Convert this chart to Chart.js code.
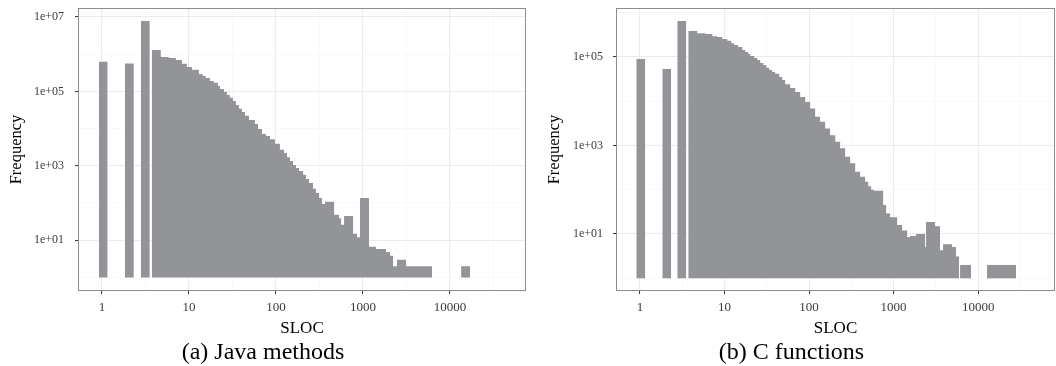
<!DOCTYPE html>
<html lang="en">
<head>
<meta charset="UTF-8">
<title>SLOC histograms</title>
<script src="https://cdn.jsdelivr.net/npm/chart.js@4.4.1/dist/chart.umd.min.js"></script>
<style>
  body { margin: 0; background: #fff; }
  .panel { position: absolute; top: 0; width: 528px; height: 366px; }
</style>
</head>
<body>
<div class="panel" style="left:0"><canvas id="javaChart"></canvas></div>
<div class="panel" style="left:528px"><canvas id="cChart"></canvas></div>

<script>
// step outline of each histogram: bar edge (SLOC) and the height from that edge on, 0 = empty after
const javaEdge = [
    0.92, 1.16, 1.83, 2.32, 2.79, 3.54,
    3.73, 4.74, 5.86, 7.06, 8.28, 9.45, 10.8, 13.0, 14.4, 15.6,
    17.4, 19.3, 21.5, 22.7, 25.2, 27.3, 29.5, 32.0, 34.6, 37.5,
    40.6, 44.0, 48.9, 57.3, 62.1, 69.0, 76.7, 85.3, 97.3, 111,
    124, 134, 145, 157, 170, 184, 205, 222, 240, 267,
    289, 313, 339, 367, 466, 531, 560, 607, 770, 855,
    926, 1175, 1415, 1845, 2050, 2220, 2465, 3130, 6240, 13450, 17100]
const javaFreq = [
    6.3e5, 0, 5.6e5, 0, 7.8e6, 0,
    1.3e6, 8.4e5, 7.9e5, 7.0e5, 5.5e5, 4.5e5, 3.8e5, 2.9e5, 2.6e5, 2.3e5,
    1.9e5, 1.7e5, 1.4e5, 1.16e5, 9.6e4, 8.0e4, 6.7e4, 5.5e4, 4.3e4, 3.4e4,
    2.8e4, 2.2e4, 1.7e4, 1.33e4, 9.8e3, 7.2e3, 6.3e3, 5.2e3, 3.9e3, 2.7e3,
    2.2e3, 1.7e3, 1.35e3, 1.05e3, 870, 720, 570, 440, 345, 240,
    186, 136, 94, 108, 48, 39, 26, 45, 15, 12,
    136, 6.7, 5.8, 4.8, 3.8, 2, 3, 2, 0, 2, 0]

const cEdge = [
    0.904, 1.155, 1.835, 2.34, 2.76, 3.53,
    3.72, 4.75, 5.91, 7.16, 8.20, 9.40, 10.8, 12.0, 13.0, 14.5,
    16.2, 17.6, 19.1, 20.1, 22.5, 24.4, 26.4, 28.7, 31.1, 33.8,
    36.6, 39.7, 44.4, 48.1, 52.2, 59.8, 68.5, 78.5, 90.0, 103,
    118, 135, 155, 177, 204, 233, 267, 306, 351, 402,
    460, 500, 542, 588, 752, 815, 909, 1100, 1260, 1446,
    1568, 1845, 2357, 2420, 3093, 3540, 3845, 4910, 5480, 5940,
    6110, 8240, 12740, 28050]
const cFreq = [
    8.9e4, 0, 5.3e4, 0, 6.4e5, 0,
    3.8e5, 3.4e5, 3.25e5, 2.9e5, 2.8e5, 2.5e5, 2.3e5, 2.0e5, 1.84e5, 1.66e5,
    1.42e5, 1.28e5, 1.15e5, 1.04e5, 9.3e4, 8.4e4, 7.2e4, 6.5e4, 5.6e4, 5.0e4,
    4.5e4, 4.1e4, 3.5e4, 3.0e4, 2.4e4, 1.96e4, 1.6e4, 1.23e4, 9.5e3, 6.8e3,
    4.4e3, 3.4e3, 2.4e3, 1.7e3, 1.2e3, 855, 553, 393, 254, 195,
    151, 120, 100, 94, 45, 29, 24, 16, 12, 8.5,
    9, 10, 5.1, 18.6, 15, 4.3, 5.9, 5.1, 3.1, 0,
    2, 0, 2, 0]

const slocTicks = [1, 10, 100, 1000, 10000]
const javaFreqTicks = [1e1, 1e3, 1e5, 1e7]
const cFreqTicks = [1e1, 1e3, 1e5]

const SERIF = "'Liberation Serif', 'Times New Roman', serif"
const BAR_COLOR = '#939498'
const TICK_TEXT = '#3a3a3a'

function stepPoints(edges, freqs) {
    const pts = []
    for (let i = 0; i < edges.length; i++) {
        if (freqs[i] > 0) {
            pts.push({ x: edges[i], y: freqs[i] })
        } else {
            // close the block at this edge, then break the outline
            pts.push({ x: edges[i], y: freqs[i - 1] })
            pts.push({ x: edges[i], y: null })
        }
    }
    return pts
}

// labelled ticks plus the unlabelled minor lines halfway (in log space) between them
function withMinor(labels, factor, min, max) {
    const out = []
    labels.forEach(v => {
        out.push({ value: v / factor, lab: false })
        out.push({ value: v, lab: true })
    })
    out.push({ value: labels[labels.length - 1] * factor, lab: false })
    return out.filter(t => t.value >= min && t.value <= max)
}

const gridOpts = {
    color: c => c.tick && c.tick.lab ? '#ebebeb' : '#f5f5f5',
    lineWidth: c => c.tick && c.tick.lab ? 1.1 : 0.6,
    tickColor: c => c.tick && c.tick.lab ? '#333333' : 'rgba(0,0,0,0)',
    tickLength: 3,
    tickWidth: 1
}

const panelBorder = {
    id: 'panelBorder',
    afterDatasetsDraw(chart) {
        const a = chart.chartArea
        const ctx = chart.ctx
        ctx.save()
        ctx.strokeStyle = '#8c8c8c'
        ctx.lineWidth = 1
        ctx.strokeRect(Math.round(a.left) + 0.5, Math.round(a.top) + 0.5,
            Math.round(a.right - a.left) - 1, Math.round(a.bottom - a.top) - 1)
        ctx.restore()
    }
}

function drawHist(id, edges, freqs, yTicks, cfg) {
    new Chart(document.getElementById(id), {
        type: 'line',
        data: {
            datasets: [{
                data: stepPoints(edges, freqs),
                stepped: 'before',
                fill: { value: 1 },
                backgroundColor: BAR_COLOR,
                borderColor: 'rgba(0,0,0,0)',
                borderWidth: 0,
                pointRadius: 0
            }]
        },
        options: {
            responsive: true,
            maintainAspectRatio: false,
            animation: false,
            layout: { padding: { top: 8, right: cfg.padRight, left: 0, bottom: 0 } },
            plugins: {
                legend: { display: false },
                tooltip: { enabled: false },
                title: {
                    display: true,
                    position: 'bottom',
                    text: cfg.caption,
                    color: '#000',
                    font: { family: SERIF, size: 24, weight: 'normal', lineHeight: 1 },
                    padding: { top: 2, bottom: 1 }
                }
            },
            scales: {
                x: {
                    type: 'logarithmic',
                    min: cfg.xMin,
                    max: cfg.xMax,
                    bounds: 'data',
                    afterBuildTicks: s => { s.ticks = withMinor(slocTicks, Math.sqrt(10), cfg.xMin, cfg.xMax) },
                    afterFit: s => { s.height = 48 },
                    ticks: {
                        autoSkip: false,
                        maxRotation: 0,
                        padding: 6,
                        color: TICK_TEXT,
                        font: { family: SERIF, size: 13 },
                        callback: (v, i, t) => t[i].lab ? String(v) : ''
                    },
                    grid: gridOpts,
                    border: { display: false },
                    title: {
                        display: true,
                        text: 'SLOC',
                        color: '#000',
                        font: { family: SERIF, size: 17, lineHeight: 1 },
                        padding: { top: 0, bottom: 1.5 }
                    }
                },
                y: {
                    type: 'logarithmic',
                    min: cfg.yMin,
                    max: cfg.yMax,
                    bounds: 'data',
                    afterBuildTicks: s => { s.ticks = withMinor(yTicks, 10, cfg.yMin, cfg.yMax) },
                    afterFit: s => {
                        s.width = cfg.yWidth
                        s.paddingTop = 0
                        s.paddingBottom = 0
                    },
                    ticks: {
                        autoSkip: false,
                        padding: cfg.yPad,
                        color: TICK_TEXT,
                        font: { family: SERIF, size: 12 },
                        callback: (v, i, t) => t[i].lab
                            ? '1e+' + String(Math.round(Math.log10(v))).padStart(2, '0') : ''
                    },
                    grid: gridOpts,
                    border: { display: false },
                    title: {
                        display: true,
                        text: 'Frequency',
                        color: '#000',
                        font: { family: SERIF, size: 16.5, lineHeight: 1 },
                        padding: { top: cfg.titlePad, bottom: 0 }
                    }
                }
            }
        },
        plugins: [panelBorder]
    })
}

drawHist('javaChart', javaEdge, javaFreq, javaFreqTicks, {
    caption: '(a) Java methods',
    xMin: 0.529, xMax: 75000, yMin: 0.4305, yMax: 1.746e7,
    yWidth: 78, yPad: 11, titlePad: 8.5, padRight: 2
})

drawHist('cChart', cEdge, cFreq, cFreqTicks, {
    caption: '(b) C functions',
    xMin: 0.520, xMax: 81100, yMin: 0.517, yMax: 1.256e6,
    yWidth: 88, yPad: 10, titlePad: 18.75, padRight: 1
})
</script>
</body>
</html>
